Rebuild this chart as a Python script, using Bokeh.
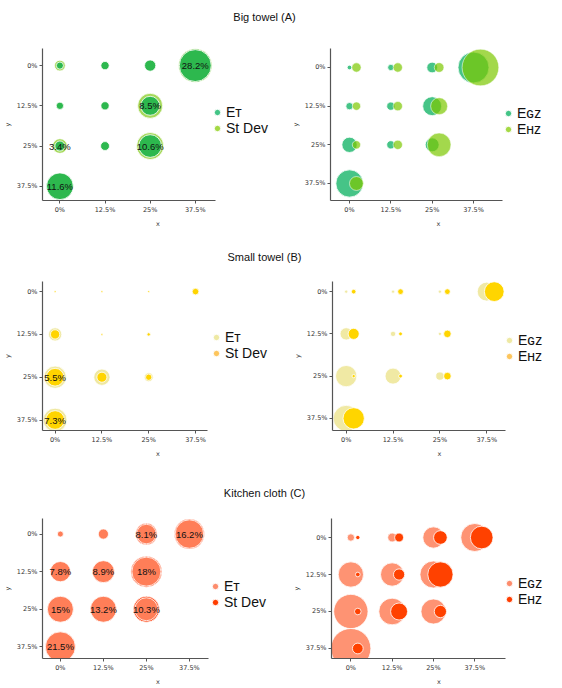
import numpy as np
from bokeh.plotting import figure
from bokeh.models import (Range1d, FixedTicker, CustomJSTickFormatter, Legend,
                          LegendItem, Label, ColumnDataSource)
from bokeh.layouts import column, row
from bokeh.embed import file_html
from bokeh.resources import INLINE
from bokeh.core.properties import value

# ---------------- data ----------------
TICKS = [0, 12.5, 25, 37.5]
cell_x = [0, 12.5, 25, 37.5, 0, 12.5, 25, 0, 12.5, 25, 0]
cell_y = [0, 0, 0, 0, 12.5, 12.5, 12.5, 25, 25, 25, 37.5]

titles = ["Big towel (A)", "Small towel (B)", "Kitchen cloth (C)"]

# Big towel (A)
a_et = [1.4, 1.9, 3.5, 28.4, 1.5, 1.9, 10.0, 2.8, 2.2, 14.3, 19.8]
a_sd = [3.2, 1.8, 3.1, 31.2, 1.4, 1.8, 17.4, 6.0, 2.1, 20.3, 18.8]
a_lbl = ["", "", "", "28.2%", "", "", "8.5%", "3.4%", "", "10.6%", "11.6%"]
a_egz = [0.6, 1.1, 3.2, 26.7, 1.5, 1.9, 10.0, 6.5, 1.9, 5.4, 20.7]
a_ehz = [2.4, 2.4, 2.6, 37.4, 1.9, 2.4, 8.0, 1.9, 2.4, 15.6, 5.4]

# Small towel (B)
b_et = [0.1, 0.1, 0.1, 1.5, 4.9, 0.1, 0.5, 13.8, 7.4, 2.2, 15.6]
b_sd = [0.1, 0.1, 0.1, 1.2, 2.4, 0.1, 0.3, 8.7, 2.8, 1.1, 9.7]
b_lbl = ["", "", "", "", "", "", "", "5.5%", "", "", "7.3%"]
b_egz = [0.3, 0.3, 0.3, 10.0, 4.2, 0.8, 0.3, 12.6, 7.1, 1.9, 18.8]
b_ehz = [0.6, 0.9, 0.9, 10.8, 3.4, 0.4, 1.6, 0.3, 0.4, 1.6, 12.6]

# Kitchen cloth (C)
c_et = [1.0, 2.9, 10.6, 22.6, 11.4, 13.4, 23.4, 18.8, 18.8, 14.7, 25.0]
c_sd = [0.7, 2.2, 12.8, 25.0, 10.0, 11.1, 26.7, 16.0, 16.0, 18.8, 21.8]
c_lbl = ["", "", "8.1%", "16.2%", "7.8%", "8.9%", "18%", "15%", "13.2%", "10.3%", "21.5%"]
c_egz = [1.5, 2.2, 12.6, 21.8, 17.8, 15.1, 20.3, 32.7, 19.8, 17.4, 44.4]
c_ehz = [0.5, 2.2, 5.2, 14.3, 0.6, 3.5, 17.8, 1.2, 8.0, 4.2, 3.2]

L_ET = "E\u1d1b"
L_SD = "St Dev"
L_GZ = "E\u0262\u1d22"
L_HZ = "E\u029c\u1d22"

SCALE = 6.0  # px of diameter per sqrt(%)


def px(vals):
    return list(SCALE * np.sqrt(np.array(vals, dtype=float)))


def style_axes(p, xbounds):
    for ax in (p.xaxis[0], p.yaxis[0]):
        ax.ticker = FixedTicker(ticks=TICKS)
        ax.formatter = CustomJSTickFormatter(code="return tick + '%';")
        ax.axis_line_color = "#555555"
        ax.axis_line_width = 1.2
        ax.major_tick_line_color = "#555555"
        ax.major_tick_in = 0
        ax.major_tick_out = 3
        ax.minor_tick_line_color = None
        ax.major_label_text_font = "DejaVu Sans"
        ax.major_label_text_font_size = "6.5px"
        ax.major_label_text_color = "#333333"
        ax.axis_label_text_font = "DejaVu Sans"
        ax.axis_label_text_font_size = "6.5px"
        ax.axis_label_text_font_style = "normal"
        ax.axis_label_text_color = "#333333"
    p.xaxis.bounds = xbounds
    p.xaxis.major_label_standoff = 2
    p.xaxis.axis_label_standoff = 3
    p.yaxis.major_label_standoff = 2
    p.yaxis.axis_label_standoff = 2
    p.xaxis.axis_label = "x"
    p.yaxis.axis_label = "y"
    p.xgrid.visible = False
    p.ygrid.visible = False
    p.outline_line_color = None


def base_fig(g, height):
    bl, br, bt, bb = g["b"]
    x0, x1 = g["xr"]
    # the frame runs to the right edge so the legend sits inside it;
    # the x axis line keeps the original extent through axis bounds
    fw = 273 - bl - br
    x1_ext = x1 + br * (x1 - x0) / fw
    p = figure(width=273, height=height, output_backend="svg", toolbar_location=None,
               title=None, x_range=Range1d(x0, x1_ext), y_range=Range1d(*g["yr"]),
               min_border_left=bl, min_border_right=0,
               min_border_top=bt, min_border_bottom=bb)
    style_axes(p, (x0, x1))
    return p


def add_legend(p, entries, loc):
    items = []
    for lab, col in entries:
        r = p.scatter(x=[np.nan], y=[np.nan], size=7, marker="circle", fill_color=col,
                      line_color="white")
        items.append(LegendItem(label=lab, renderers=[r]))
    lg = Legend(items=items, location=loc, orientation="vertical",
                border_line_alpha=0, background_fill_alpha=0, padding=0, margin=0,
                spacing=-6, glyph_width=18, glyph_height=16, label_standoff=-2,
                label_height=15, label_text_font="Liberation Sans",
                label_text_font_size="14px", label_text_color="#111111")
    p.add_layout(lg)


def left_panel(g, height, under, over, under_col, over_col, labels, leg):
    p = base_fig(g, height)
    su = ColumnDataSource(dict(x=cell_x, y=cell_y, s=px(under)))
    so = ColumnDataSource(dict(x=cell_x, y=cell_y, s=px(over)))
    p.scatter("x", "y", size="s", source=su, marker="circle", fill_color=under_col,
              line_color="white", line_width=0.8)
    p.scatter("x", "y", size="s", source=so, marker="circle", fill_color=over_col,
              line_color="white", line_width=0.8)
    lx = [x for x, t in zip(cell_x, labels) if t]
    ly = [y for y, t in zip(cell_y, labels) if t]
    lt = [t for t in labels if t]
    p.text(x=lx, y=ly, text=lt, text_align="center", text_baseline="middle",
           text_font=value("Liberation Sans"), text_font_size="9.5px", text_color="#111111")
    add_legend(p, leg, g["leg"])
    return p


def right_panel(g, height, egz, ehz, c1, c2, a2, dodge, leg):
    p = base_fig(g, height)
    s1 = ColumnDataSource(dict(x=cell_x, y=cell_y, s=px(egz)))
    s2 = ColumnDataSource(dict(x=[x + dodge for x in cell_x], y=cell_y, s=px(ehz)))
    p.scatter("x", "y", size="s", source=s1, marker="circle", fill_color=c1,
              line_color="white", line_width=0.8)
    p.scatter("x", "y", size="s", source=s2, marker="circle", fill_color=c2,
              fill_alpha=a2, line_color="white", line_alpha=a2, line_width=0.8)
    add_legend(p, leg, g["leg"])
    return p


def title_fig(t, h):
    p = figure(width=546, height=h, output_backend="svg", toolbar_location=None,
               title=None, x_axis_location=None, y_axis_location=None,
               min_border=0, x_range=Range1d(0, 1), y_range=Range1d(0, 1))
    p.outline_line_color = None
    p.xgrid.visible = False
    p.ygrid.visible = False
    p.add_layout(Label(x=264, y=8, x_units="screen", y_units="screen", text=t,
                       text_align="center", text_baseline="middle",
                       text_font="Liberation Sans", text_font_size="11px",
                       text_color="#111111"))
    return p


# geometry: borders (left, right, top, bottom), ranges, legend location (from frame bottom-left)
gA1 = dict(b=(34, 60, 19, 45), xr=(-4.82, 43.1), yr=(41.93, -5.31), leg=(166, 64))
gA2 = dict(b=(57, 44, 24, 48), xr=(-5.75, 46.27), yr=(43.0, -6.14), leg=(169, 63))
gB1 = dict(b=(35, 68, 14, 54), xr=(-3.37, 40.7), yr=(40.56, -2.95), leg=(165, 69))
gB2 = dict(b=(59, 41, 17, 51), xr=(-3.65, 42.5), yr=(41.1, -3.0), leg=(168, 66))
gC1 = dict(b=(36, 67, 14, 30), xr=(-5.2, 42.97), yr=(41.38, -5.17), leg=(164, 48))
gC2 = dict(b=(58, 41, 18, 30), xr=(-5.86, 46.8), yr=(40.88, -6.42), leg=(169, 51))

pA1 = left_panel(gA1, 224, a_sd, a_et, "#a6d95b", "#2db84e", a_lbl,
                 [(L_ET, "#43c486"), (L_SD, "#a4d944")])
pA2 = right_panel(gA2, 224, a_egz, a_ehz, "#46c487", "#7cc800", 0.7, 2.1,
                  [(L_GZ, "#43c486"), (L_HZ, "#a4d944")])
pB1 = left_panel(gB1, 220, b_et, b_sd, "#efe8a2", "#ffd400", b_lbl,
                 [(L_ET, "#eee9a3"), (L_SD, "#fdc55c")])
pB2 = right_panel(gB2, 220, b_egz, b_ehz, "#f0e9a4", "#ffd500", 1.0, 2.0,
                  [(L_GZ, "#eee9a3"), (L_HZ, "#fdc55c")])
pC1 = left_panel(gC1, 188, c_sd, c_et, "#ff4a1a", "#ff7e58", c_lbl,
                 [(L_ET, "#fd8c6c"), (L_SD, "#ff3d00")])
pC2 = right_panel(gC2, 188, c_egz, c_ehz, "#fe9373", "#ff4100", 1.0, 2.1,
                  [(L_GZ, "#fd8c6c"), (L_HZ, "#ff3d00")])

layout = column(title_fig(titles[0], 24), row(pA1, pA2),
                title_fig(titles[1], 16), row(pB1, pB2),
                title_fig(titles[2], 16), row(pC1, pC2))

open("out.html", "w").write(file_html(layout, INLINE))
